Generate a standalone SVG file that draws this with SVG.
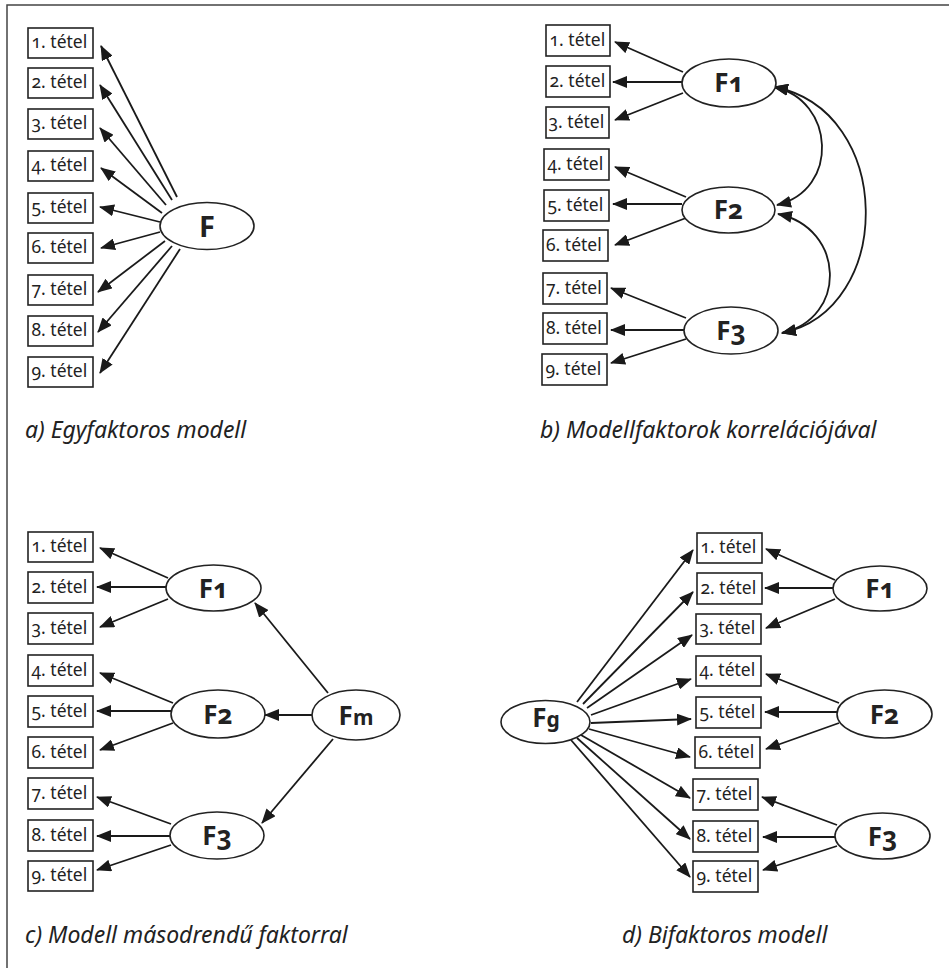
<svg xmlns="http://www.w3.org/2000/svg" width="949" height="968" viewBox="0 0 949 968">
<style>
.frame{fill:none;stroke:#444;stroke-width:1.5}
.box{fill:#fff;stroke:#222;stroke-width:1.6}
.ell{fill:#fff;stroke:#222;stroke-width:1.6}
.lbl{font-family:"Noto Sans","Open Sans",sans-serif;font-size:17.5px;fill:#222;font-variant-numeric:oldstyle-nums;font-feature-settings:"onum"}
.fac{font-family:"Noto Sans","Open Sans",sans-serif;font-weight:bold;font-size:26px;fill:#222;text-anchor:middle;font-variant-numeric:oldstyle-nums;font-feature-settings:"onum"}
.sub{font-size:21px}
.cap{font-family:"Noto Sans","Open Sans",sans-serif;font-style:italic;font-size:23px;fill:#222}
.con line,.con path{stroke:#1a1a1a;stroke-width:1.8;fill:none;marker-end:url(#ah)}
.con path.both{marker-start:url(#ah)}
</style>
<defs>
<marker id="ah" viewBox="0 0 15 12" refX="14" refY="6" markerWidth="15" markerHeight="12" markerUnits="userSpaceOnUse" orient="auto-start-reverse">
<path d="M0,0 L15,6 L0,12 z" fill="#1a1a1a"/>
</marker>
</defs>
<rect class="frame" x="7" y="5" width="980" height="990"/>

<g id="connectors" class="con">
<!-- panel a -->
<line x1="177" y1="197" x2="101" y2="46"/>
<line x1="172" y1="200" x2="100" y2="85"/>
<line x1="166" y1="205" x2="100" y2="128"/>
<line x1="162" y1="213" x2="101" y2="168"/>
<line x1="160" y1="222" x2="100" y2="207"/>
<line x1="160" y1="232" x2="101" y2="248"/>
<line x1="165" y1="241" x2="98" y2="292"/>
<line x1="172" y1="246" x2="98" y2="332"/>
<line x1="180" y1="249" x2="100" y2="373"/>
<!-- panel b -->
<line x1="683" y1="72" x2="615" y2="42"/>
<line x1="682" y1="82" x2="613" y2="82"/>
<line x1="683" y1="93" x2="615" y2="120"/>
<line x1="686" y1="197" x2="615" y2="167"/>
<line x1="682" y1="204" x2="613" y2="204"/>
<line x1="686" y1="218" x2="615" y2="245"/>
<line x1="686" y1="318" x2="611" y2="288"/>
<line x1="684" y1="330" x2="611" y2="330"/>
<line x1="686" y1="339" x2="611" y2="363"/>
<path class="both" d="M774,87 C835,100 840,190 777,205"/>
<path class="both" d="M778,214 C845,228 848,318 782,333"/>
<path class="both" d="M774,87 C895,110 895,310 782,333"/>
<!-- panel c -->
<line x1="168" y1="578" x2="100" y2="548"/>
<line x1="166" y1="587" x2="97" y2="587"/>
<line x1="168" y1="599" x2="100" y2="627"/>
<line x1="173" y1="703" x2="100" y2="673"/>
<line x1="171" y1="711" x2="97" y2="711"/>
<line x1="173" y1="723" x2="100" y2="750"/>
<line x1="171" y1="824" x2="97" y2="797"/>
<line x1="170" y1="836" x2="97" y2="836"/>
<line x1="171" y1="845" x2="97" y2="870"/>
<line x1="328" y1="693" x2="255" y2="603"/>
<line x1="312" y1="715" x2="265" y2="715"/>
<line x1="333" y1="739" x2="262" y2="823"/>
<!-- panel d -->
<line x1="577" y1="702" x2="693" y2="550"/>
<line x1="583" y1="704" x2="693" y2="592"/>
<line x1="587" y1="708" x2="692" y2="635"/>
<line x1="591" y1="715" x2="691" y2="679"/>
<line x1="591" y1="723" x2="691" y2="719"/>
<line x1="589" y1="729" x2="690" y2="757"/>
<line x1="581" y1="735" x2="690" y2="798"/>
<line x1="577" y1="738" x2="690" y2="839"/>
<line x1="571" y1="740" x2="690" y2="877"/>
<line x1="835" y1="580" x2="766" y2="549"/>
<line x1="833" y1="588" x2="765" y2="588"/>
<line x1="835" y1="599" x2="766" y2="628"/>
<line x1="839" y1="703" x2="766" y2="674"/>
<line x1="837" y1="712" x2="765" y2="712"/>
<line x1="839" y1="723" x2="766" y2="749"/>
<line x1="837" y1="825" x2="762" y2="797"/>
<line x1="835" y1="837" x2="763" y2="837"/>
<line x1="837" y1="846" x2="763" y2="870"/>
</g>

<!-- panel a nodes -->
<g id="a-i1"><rect class="box" x="28" y="28" width="65" height="30"/><text class="lbl" x="31.5" y="48">1. tétel</text></g>
<g id="a-i2"><rect class="box" x="28" y="68" width="65" height="30"/><text class="lbl" x="31.5" y="88">2. tétel</text></g>
<g id="a-i3"><rect class="box" x="28" y="109" width="65" height="30"/><text class="lbl" x="31.5" y="129">3. tétel</text></g>
<g id="a-i4"><rect class="box" x="28" y="151" width="65" height="30"/><text class="lbl" x="31.5" y="171">4. tétel</text></g>
<g id="a-i5"><rect class="box" x="28" y="193" width="65" height="30"/><text class="lbl" x="31.5" y="213">5. tétel</text></g>
<g id="a-i6"><rect class="box" x="28" y="233" width="65" height="30"/><text class="lbl" x="31.5" y="253">6. tétel</text></g>
<g id="a-i7"><rect class="box" x="28" y="275" width="65" height="30"/><text class="lbl" x="31.5" y="295">7. tétel</text></g>
<g id="a-i8"><rect class="box" x="28" y="316" width="65" height="30"/><text class="lbl" x="31.5" y="336">8. tétel</text></g>
<g id="a-i9"><rect class="box" x="28" y="357" width="65" height="30"/><text class="lbl" x="31.5" y="377">9. tétel</text></g>
<g id="a-F"><ellipse class="ell" cx="207" cy="226" rx="47" ry="23.5"/><text class="fac" x="207" y="237" style="font-size:29px">F</text></g>
<text class="cap" x="25" y="438">a) Egyfaktoros modell</text>

<!-- panel b nodes -->
<g id="b-i1"><rect class="box" x="546" y="25" width="64" height="31"/><text class="lbl" x="549.5" y="45.5">1. tétel</text></g>
<g id="b-i2"><rect class="box" x="546" y="66" width="64" height="31"/><text class="lbl" x="549.5" y="86.5">2. tétel</text></g>
<g id="b-i3"><rect class="box" x="546" y="107" width="63" height="31"/><text class="lbl" x="548.5" y="127.5">3. tétel</text></g>
<g id="b-i4"><rect class="box" x="544" y="149" width="65" height="31"/><text class="lbl" x="547.5" y="169.5">4. tétel</text></g>
<g id="b-i5"><rect class="box" x="544" y="190" width="65" height="31"/><text class="lbl" x="547.5" y="210.5">5. tétel</text></g>
<g id="b-i6"><rect class="box" x="543" y="230" width="65" height="31"/><text class="lbl" x="546" y="250.5">6. tétel</text></g>
<g id="b-i7"><rect class="box" x="543" y="273" width="64" height="31"/><text class="lbl" x="546" y="293.5">7. tétel</text></g>
<g id="b-i8"><rect class="box" x="543" y="313" width="64" height="31"/><text class="lbl" x="546" y="333.5">8. tétel</text></g>
<g id="b-i9"><rect class="box" x="542" y="354" width="65" height="31"/><text class="lbl" x="545.5" y="374.5">9. tétel</text></g>
<g id="b-F1"><ellipse class="ell" cx="729" cy="83" rx="47" ry="24"/><text class="fac" x="729" y="92">F1</text></g>
<g id="b-F2"><ellipse class="ell" cx="728.5" cy="210" rx="46.5" ry="23"/><text class="fac" x="728.5" y="219">F2</text></g>
<g id="b-F3"><ellipse class="ell" cx="731" cy="330.5" rx="47" ry="23.5"/><text class="fac" x="731" y="339.5">F3</text></g>
<text class="cap" x="540" y="438">b) Modellfaktorok korrelációjával</text>

<!-- panel c nodes -->
<g id="c-i1"><rect class="box" x="28" y="532" width="65" height="30"/><text class="lbl" x="31.5" y="552">1. tétel</text></g>
<g id="c-i2"><rect class="box" x="28" y="572" width="65" height="31"/><text class="lbl" x="31.5" y="592.5">2. tétel</text></g>
<g id="c-i3"><rect class="box" x="28" y="613" width="65" height="31"/><text class="lbl" x="31.5" y="633.5">3. tétel</text></g>
<g id="c-i4"><rect class="box" x="28" y="655" width="65" height="31"/><text class="lbl" x="31.5" y="675.5">4. tétel</text></g>
<g id="c-i5"><rect class="box" x="28" y="696" width="65" height="31"/><text class="lbl" x="31.5" y="716.5">5. tétel</text></g>
<g id="c-i6"><rect class="box" x="28" y="737" width="65" height="31"/><text class="lbl" x="31.5" y="757.5">6. tétel</text></g>
<g id="c-i7"><rect class="box" x="28" y="778" width="65" height="31"/><text class="lbl" x="31.5" y="798.5">7. tétel</text></g>
<g id="c-i8"><rect class="box" x="28" y="820" width="65" height="31"/><text class="lbl" x="31.5" y="840.5">8. tétel</text></g>
<g id="c-i9"><rect class="box" x="28" y="861" width="65" height="30"/><text class="lbl" x="31.5" y="881">9. tétel</text></g>
<g id="c-F1"><ellipse class="ell" cx="213.5" cy="588" rx="47.5" ry="23"/><text class="fac" x="213.5" y="597.5">F1</text></g>
<g id="c-F2"><ellipse class="ell" cx="218" cy="714" rx="47" ry="24"/><text class="fac" x="218" y="723.5">F2</text></g>
<g id="c-F3"><ellipse class="ell" cx="217" cy="835.5" rx="47" ry="23.5"/><text class="fac" x="217" y="845">F3</text></g>
<g id="c-Fm"><ellipse class="ell" cx="356" cy="715" rx="44" ry="25"/><text class="fac" x="356" y="724.5">F<tspan class="sub">m</tspan></text></g>
<text class="cap" x="25" y="943">c) Modell másodrendű faktorral</text>

<!-- panel d nodes -->
<g id="d-i1"><rect class="box" x="697" y="533" width="65" height="30"/><text class="lbl" x="700.5" y="553">1. tétel</text></g>
<g id="d-i2"><rect class="box" x="697" y="573" width="65" height="31"/><text class="lbl" x="700.5" y="593.5">2. tétel</text></g>
<g id="d-i3"><rect class="box" x="696" y="614" width="65" height="30"/><text class="lbl" x="699.5" y="634">3. tétel</text></g>
<g id="d-i4"><rect class="box" x="696" y="656" width="65" height="30"/><text class="lbl" x="699.5" y="676">4. tétel</text></g>
<g id="d-i5"><rect class="box" x="696" y="697" width="65" height="31"/><text class="lbl" x="699.5" y="717.5">5. tétel</text></g>
<g id="d-i6"><rect class="box" x="695" y="737" width="65" height="31"/><text class="lbl" x="698.5" y="757.5">6. tétel</text></g>
<g id="d-i7"><rect class="box" x="693" y="779" width="65" height="31"/><text class="lbl" x="696.5" y="799.5">7. tétel</text></g>
<g id="d-i8"><rect class="box" x="693" y="821" width="65" height="31"/><text class="lbl" x="696.5" y="841.5">8. tétel</text></g>
<g id="d-i9"><rect class="box" x="693" y="861" width="65" height="31"/><text class="lbl" x="696.5" y="881.5">9. tétel</text></g>
<g id="d-F1"><ellipse class="ell" cx="880" cy="588.5" rx="47" ry="22.5"/><text class="fac" x="880" y="598">F1</text></g>
<g id="d-F2"><ellipse class="ell" cx="884.5" cy="714" rx="47.5" ry="24"/><text class="fac" x="884.5" y="723.5">F2</text></g>
<g id="d-F3"><ellipse class="ell" cx="882.5" cy="836" rx="47.5" ry="23"/><text class="fac" x="882.5" y="845.5">F3</text></g>
<g id="d-Fg"><ellipse class="ell" cx="545.5" cy="722" rx="44.5" ry="21.5"/><text class="fac" x="546" y="727">F<tspan class="sub">g</tspan></text></g>
<text class="cap" x="622" y="943">d) Bifaktoros modell</text>
</svg>
